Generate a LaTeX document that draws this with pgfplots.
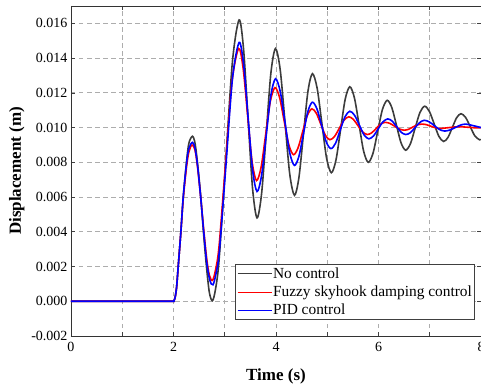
\documentclass[border=0pt]{standalone}
\usepackage{fontspec}
\setmainfont{Liberation Serif}
\usepackage{pgfplots}
\pgfplotsset{compat=1.18}
\usetikzlibrary{calc}
\definecolor{nocol}{RGB}{60,60,60}
\begin{document}
\begin{tikzpicture}
\begin{axis}[
  name=ax,
  width=410pt, height=330pt, scale only axis,
  xmin=0, xmax=8, ymin=-0.002, ymax=0.017,
  xtick={0,1,2,3,4,5,6,7,8},
  xticklabels={0,,2,,4,,6,,8},
  ytick={-0.002,0,0.002,0.004,0.006,0.008,0.010,0.012,0.014,0.016},
  scaled y ticks=false,
  /pgf/number format/assume math mode=true,
  yticklabel style={/pgf/number format/.cd, fixed, fixed zerofill, precision=3},
  ticklabel style={font=\fontsize{14}{16}\selectfont},
  xticklabel style={yshift=-3pt},
  tick align=inside,
  major tick length=4pt,
  tick style={black!75, line width=0.6pt},
  axis line style={black!80, line width=0.9pt},
  grid=major,
  major grid style={black!32, dash pattern=on 4.5pt off 3.5pt, line width=0.7pt},
  xlabel={\bfseries Time (s)},
  ylabel={\bfseries Displacement (m)},
  label style={font=\fontsize{17}{19}\selectfont},
  xlabel style={yshift=-10pt},
  legend style={at={(rel axis cs:0.985,0.048)}, anchor=south east,
    draw=black!75, line width=0.8pt, fill=white,
    font=\fontsize{15.4}{17}\selectfont,
    inner xsep=1.5pt, inner ysep=2.5pt, row sep=4pt,
    nodes={inner sep=1pt}},
  legend cell align=left,
  legend image code/.code={\draw[#1, draw=., line width=0.9pt] (0pt,0pt) -- (34pt,0pt);},
  every axis plot/.append style={line width=1.6pt, smooth},
]
\addplot[nocol] coordinates {
(0,0) (1,0) (1.95,0) (2.0,0) (2.03,0.0002) (2.06,0.0008) (2.092,0.002) (2.144,0.004) (2.19,0.006) (2.253,0.008) (2.30,0.0091) (2.37,0.0095) (2.42,0.0091) (2.467,0.008) (2.533,0.006) (2.584,0.004) (2.643,0.002) (2.70,0.0005) (2.76,0.00003) (2.82,0.0007) (2.89,0.0024) (3.02,0.0081) (3.15,0.0138) (3.28,0.0162) (3.3675,0.0145) (3.455,0.0105) (3.5425,0.0065) (3.63,0.0048) (3.72,0.00623) (3.81,0.00968) (3.90,0.01313) (3.99,0.01455) (4.0825,0.01332) (4.175,0.01033) (4.2675,0.00734) (4.36,0.0061) (4.4475,0.00713) (4.535,0.0096) (4.6225,0.01207) (4.71,0.0131) (4.8025,0.01227) (4.895,0.01025) (4.9875,0.00823) (5.08,0.0074) (5.17,0.00813) (5.26,0.00988) (5.35,0.01163) (5.44,0.01235) (5.53,0.01171) (5.62,0.01018) (5.71,0.00864) (5.80,0.0080) (5.8925,0.00852) (5.985,0.00979) (6.0775,0.01105) (6.17,0.01157) (6.26,0.01115) (6.35,0.01014) (6.44,0.00912) (6.53,0.0087) (6.6225,0.00907) (6.715,0.00997) (6.8075,0.01086) (6.90,0.01123) (6.9925,0.01093) (7.085,0.01022) (7.1775,0.0095) (7.27,0.0092) (7.355,0.00943) (7.44,0.0100) (7.525,0.01057) (7.61,0.0108) (7.70,0.01058) (7.79,0.01005) (7.88,0.00952) (7.97,0.0093) (8.0,0.00931)
};
\addlegendentry{No control}
\addplot[red] coordinates {
(0,0) (1,0) (1.95,0) (2.0,0) (2.03,0.0002) (2.06,0.0008) (2.092,0.002) (2.144,0.004) (2.19,0.0059) (2.253,0.0077) (2.30,0.0086) (2.36,0.0090) (2.42,0.0087) (2.47,0.0077) (2.53,0.0060) (2.59,0.0041) (2.65,0.0024) (2.70,0.0015) (2.76,0.0012) (2.82,0.0018) (2.89,0.0032) (3.015,0.0079) (3.14,0.0126) (3.27,0.01455) (3.3575,0.01344) (3.445,0.01075) (3.5325,0.00806) (3.62,0.00695) (3.71,0.00773) (3.80,0.00963) (3.89,0.01152) (3.98,0.0123) (4.07,0.01173) (4.16,0.01037) (4.25,0.00901) (4.34,0.00844) (4.43,0.00883) (4.52,0.00976) (4.61,0.01069) (4.70,0.01108) (4.7875,0.01082) (4.875,0.01019) (4.9625,0.00956) (5.05,0.0093) (5.1425,0.00949) (5.235,0.00996) (5.3275,0.01043) (5.42,0.01062) (5.51,0.01047) (5.60,0.01011) (5.69,0.00975) (5.78,0.0096) (5.8675,0.0097) (5.955,0.00995) (6.0425,0.0102) (6.13,0.0103) (6.2225,0.01024) (6.315,0.01008) (6.4075,0.00992) (6.50,0.00985) (6.585,0.0099) (6.67,0.01003) (6.755,0.01015) (6.84,0.0102) (6.93,0.01017) (7.02,0.01008) (7.11,0.00999) (7.20,0.00995) (7.38,0.0100) (7.56,0.01005) (7.74,0.01002) (7.92,0.00998) (8.0,0.0100)
};
\addlegendentry{Fuzzy skyhook damping control}
\addplot[blue] coordinates {
(0,0) (1,0) (1.95,0) (2.0,0) (2.03,0.0002) (2.06,0.0008) (2.092,0.002) (2.144,0.004) (2.19,0.006) (2.253,0.0079) (2.30,0.0088) (2.37,0.00915) (2.42,0.0088) (2.47,0.0078) (2.53,0.0060) (2.59,0.0040) (2.65,0.0022) (2.71,0.0012) (2.77,0.00095) (2.83,0.0016) (2.895,0.0029) (3.025,0.0079) (3.15,0.0128) (3.28,0.0149) (3.3675,0.01364) (3.455,0.01061) (3.5425,0.00758) (3.63,0.00632) (3.72,0.00727) (3.81,0.00957) (3.90,0.01186) (3.99,0.01281) (4.0825,0.01208) (4.175,0.01032) (4.2675,0.00855) (4.36,0.00782) (4.4475,0.00835) (4.535,0.00964) (4.6225,0.01093) (4.71,0.01146) (4.80,0.01107) (4.89,0.01013) (4.98,0.00918) (5.07,0.00879) (5.1625,0.0091) (5.255,0.00987) (5.3475,0.01063) (5.44,0.01094) (5.5325,0.01071) (5.625,0.01015) (5.7175,0.00958) (5.81,0.00935) (5.9025,0.00952) (5.995,0.00993) (6.0875,0.01033) (6.18,0.0105) (6.2675,0.01037) (6.355,0.01005) (6.4425,0.00973) (6.53,0.0096) (6.62,0.0097) (6.71,0.00999) (6.80,0.01028) (6.89,0.01042) (6.99,0.01033) (7.09,0.01011) (7.19,0.00989) (7.29,0.0098) (7.3925,0.00986) (7.495,0.0100) (7.5975,0.01014) (7.70,0.0102) (7.85,0.01011) (8.0,0.0100)
};
\addlegendentry{PID control}
\end{axis}
\pgfresetboundingbox
\path[use as bounding box] ($(ax.south west)+(-71pt,-52pt)$) rectangle ($(ax.north east)+(0pt,6pt)$);
\end{tikzpicture}
\end{document}
